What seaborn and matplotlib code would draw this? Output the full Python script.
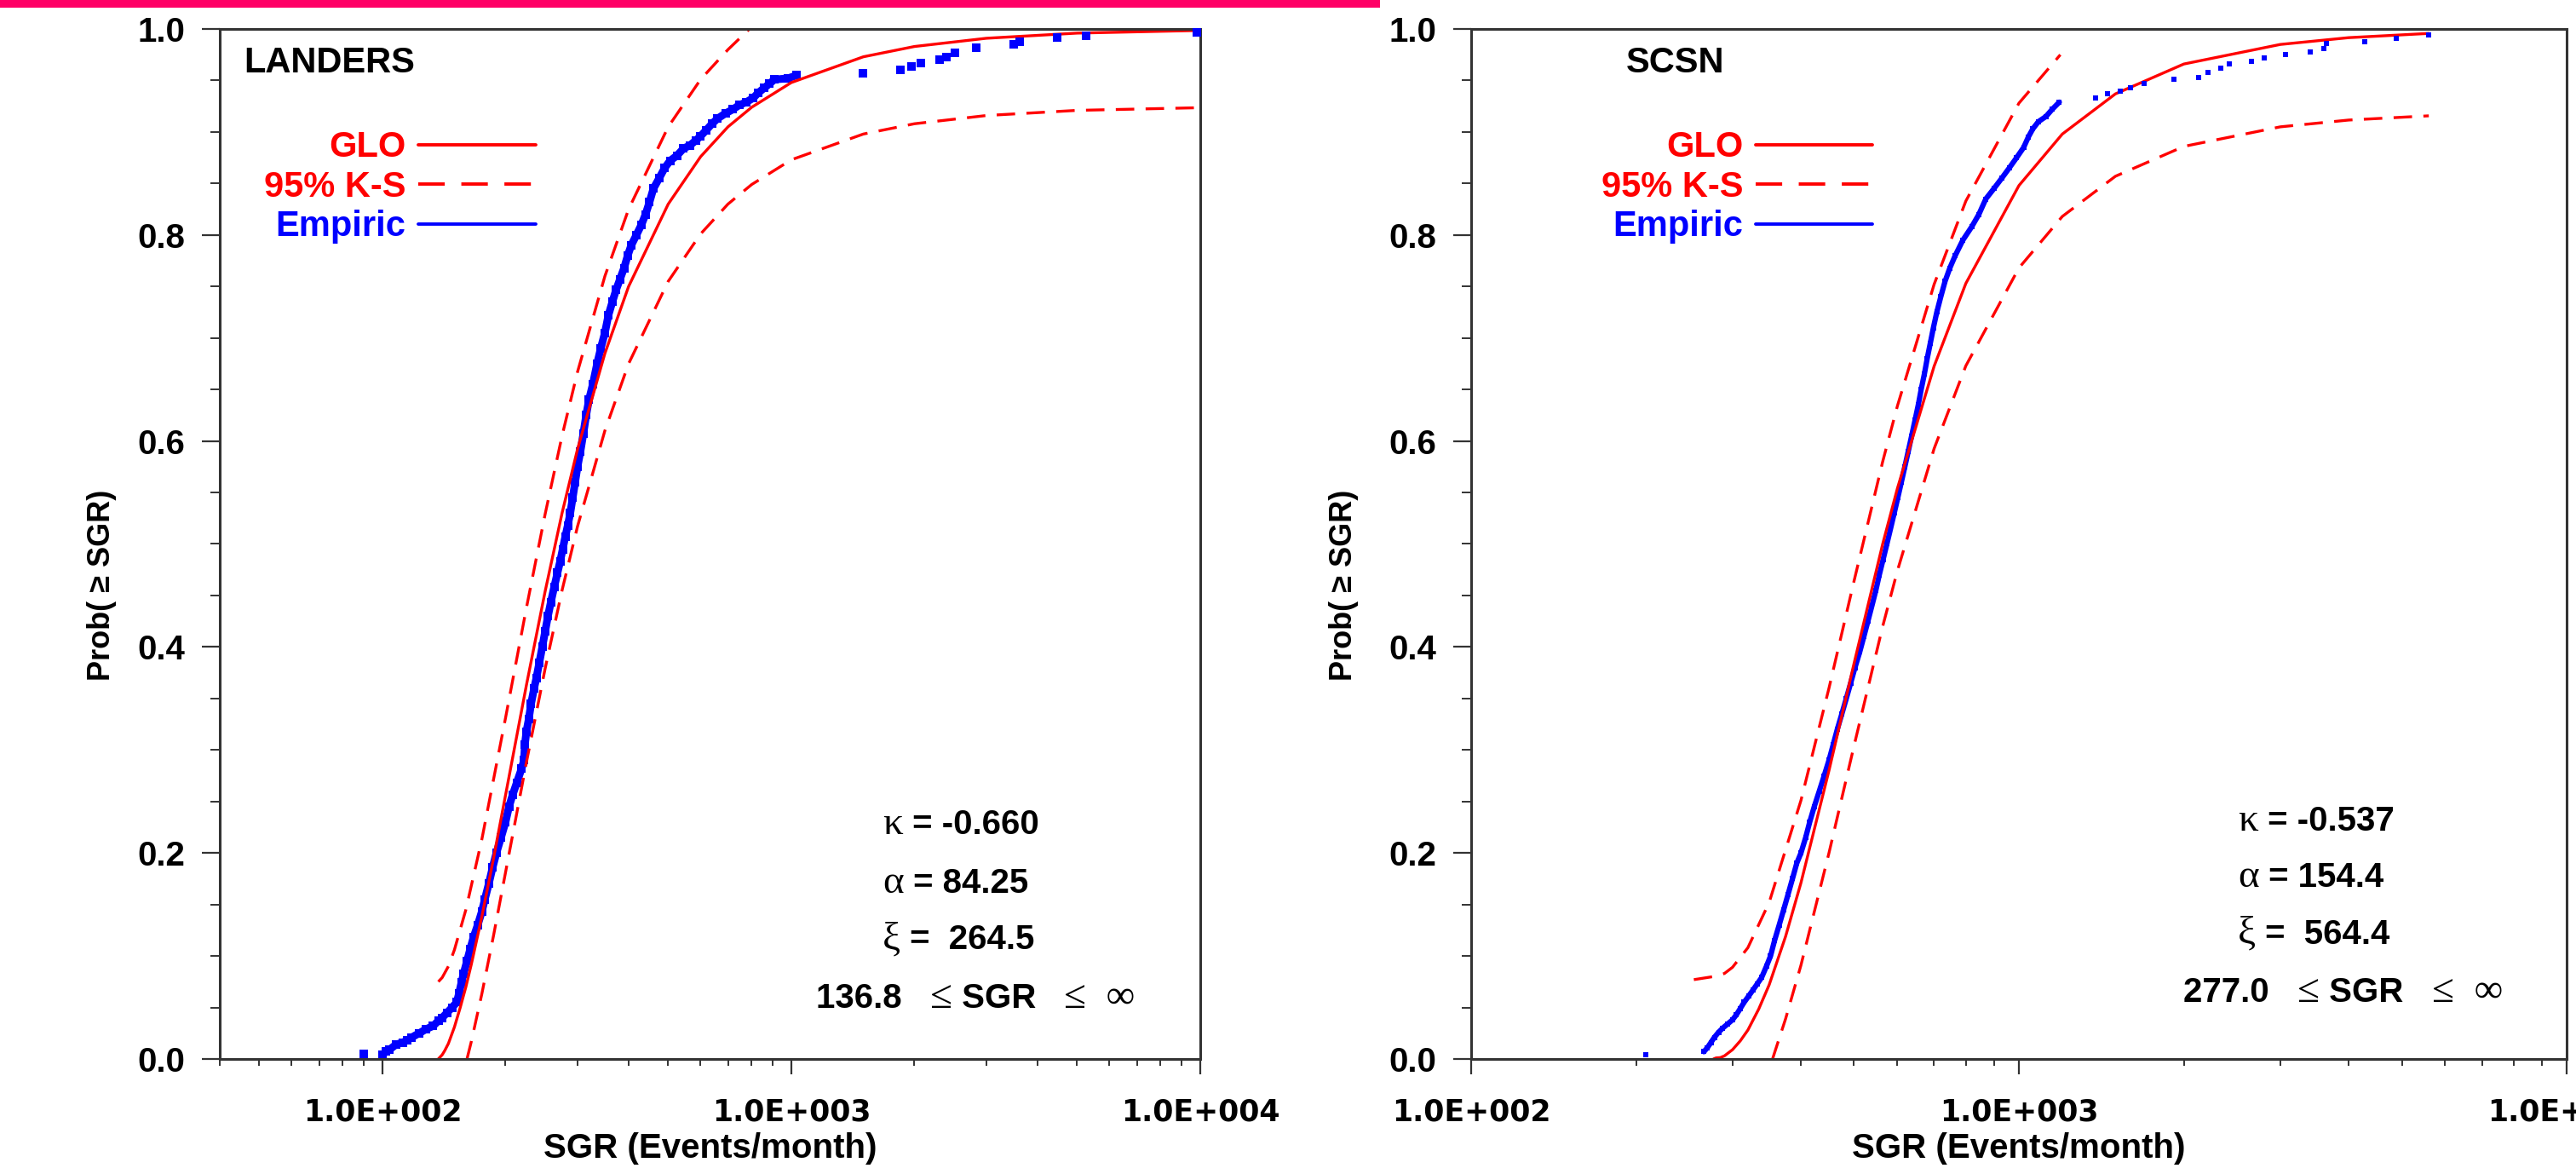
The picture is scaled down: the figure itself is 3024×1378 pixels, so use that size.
import numpy as np
import pandas as pd
import seaborn as sns
import matplotlib.pyplot as plt
from matplotlib.lines import Line2D
from matplotlib.patches import Rectangle
from matplotlib.offsetbox import TextArea, HPacker, AnchoredOffsetbox
from matplotlib.ticker import LogLocator, MultipleLocator, NullFormatter

sns.set_theme(style='ticks')
plt.rcParams['font.family'] = ['Liberation Sans', 'DejaVu Sans']

RED = '#ff0000'
BLUE = '#0000ff'
SPINE = '#333333'

# ---------------- LANDERS (left) ----------------
landers_glo_x = [137, 140, 142, 145, 150, 155, 160, 165, 175, 187, 200, 225, 250, 275, 300,
                 350, 400, 500, 600, 700, 800, 1000, 1500, 2000, 3000, 5000, 10000]
landers_glo_p = [0.0, 0.004, 0.008, 0.015, 0.031, 0.050, 0.070, 0.092, 0.138, 0.195, 0.256,
                 0.363, 0.454, 0.530, 0.592, 0.685, 0.750, 0.830, 0.876, 0.905, 0.924, 0.948,
                 0.973, 0.983, 0.991, 0.996, 0.9986]
landers_hi_x = [137, 140, 145, 150, 160, 175, 200, 225, 250, 275, 300, 350, 400, 500, 600, 700, 790]
landers_hi_p = [0.075, 0.079, 0.090, 0.106, 0.145, 0.213, 0.331, 0.438, 0.529, 0.605, 0.667,
                0.760, 0.825, 0.905, 0.951, 0.980, 1.0]
landers_lo_x = [161, 165, 175, 187, 200, 225, 250, 275, 300, 350, 400, 500, 600, 700, 800,
                1000, 1500, 2000, 3000, 5000, 10000]
landers_lo_p = [0.0, 0.017, 0.063, 0.120, 0.181, 0.288, 0.379, 0.455, 0.517, 0.610, 0.675,
                0.755, 0.801, 0.830, 0.849, 0.873, 0.898, 0.908, 0.916, 0.921, 0.9236]
# empirical points forming a continuous run
landers_emp_x = [100, 102, 104, 108, 112, 115, 118, 123, 128, 133, 137, 140, 144, 148, 152,
                 154, 156, 158, 161, 164, 167, 171, 175, 178, 182, 186, 190, 195, 200, 204,
                 208, 213, 219, 222, 223, 225, 228, 231, 235, 238, 242, 246, 250, 254, 258,
                 263, 268, 272, 276, 280, 284, 288, 292, 296, 300, 305, 310, 315, 320, 327,
                 335, 342, 350, 357, 365, 373, 381, 390, 398, 406, 418, 430, 440, 450, 460,
                 475, 490, 505, 525, 545, 565, 585, 600, 620, 640, 660, 690, 720, 745,
                 776, 807, 830, 860, 885, 910, 980, 1030]
landers_emp_p = [0.004, 0.007, 0.009, 0.014, 0.016, 0.018, 0.021, 0.025, 0.029, 0.032, 0.037,
                 0.040, 0.045, 0.050, 0.055, 0.064, 0.074, 0.083, 0.095, 0.107, 0.118, 0.130,
                 0.143, 0.155, 0.170, 0.186, 0.200, 0.215, 0.230, 0.245, 0.256, 0.268, 0.282,
                 0.290, 0.305, 0.318, 0.330, 0.345, 0.360, 0.370, 0.385, 0.400, 0.415, 0.430,
                 0.443, 0.458, 0.472, 0.483, 0.495, 0.507, 0.518, 0.530, 0.545, 0.560, 0.575,
                 0.590, 0.607, 0.625, 0.640, 0.655, 0.675, 0.690, 0.705, 0.722, 0.735, 0.747,
                 0.757, 0.768, 0.780, 0.790, 0.800, 0.810, 0.820, 0.832, 0.845, 0.855, 0.865,
                 0.872, 0.877, 0.884, 0.887, 0.892, 0.896, 0.902, 0.908, 0.913, 0.918, 0.922,
                 0.926, 0.929, 0.933, 0.938, 0.943, 0.947, 0.951, 0.952, 0.955]
# isolated empirical points
landers_loose_x = [90, 1500, 1853, 1963, 2070, 2300, 2400, 2510, 2830, 3500, 3620, 4470, 5260, 9800]
landers_loose_p = [0.005, 0.957, 0.960, 0.964, 0.967, 0.970, 0.973, 0.977, 0.982, 0.985, 0.988,
                   0.992, 0.993, 0.997]

# ---------------- SCSN (right) ----------------
scsn_glo_x = [277, 280, 285, 290, 300, 310, 320, 335, 350, 375, 400, 450, 500, 564, 600, 700,
              800, 1000, 1200, 1500, 2000, 3000, 4000, 5600]
scsn_glo_p = [0.0, 0.001, 0.0013, 0.003, 0.009, 0.0176, 0.028, 0.0485, 0.072, 0.119, 0.171,
              0.280, 0.384, 0.500, 0.554, 0.6725, 0.753, 0.848, 0.898, 0.937, 0.966, 0.985,
              0.9916, 0.9957]
scsn_hi_x = [255, 277, 290, 300, 320, 350, 400, 450, 500, 564, 600, 700, 800, 1000, 1190]
scsn_hi_p = [0.077, 0.080, 0.083, 0.089, 0.108, 0.152, 0.251, 0.360, 0.464, 0.580, 0.634,
             0.752, 0.833, 0.928, 0.975]
scsn_lo_x = [355, 360, 375, 400, 450, 500, 564, 600, 700, 800, 1000, 1200, 1500, 2000, 3000,
             4000, 5600]
scsn_lo_p = [0.0, 0.010, 0.039, 0.091, 0.200, 0.304, 0.420, 0.474, 0.5925, 0.673, 0.768,
             0.818, 0.857, 0.886, 0.905, 0.9116, 0.9157]
scsn_emp_x = [266, 270, 274, 278, 283, 288, 294, 300, 305, 310, 315, 321, 327, 333, 339, 346,
              352, 358, 365, 372, 379, 386, 393, 400, 408, 415, 423, 432, 441, 450, 458, 466,
              475, 484, 493, 502, 512, 521, 530, 539, 548, 556, 565, 574, 583, 592, 601, 610,
              619, 628, 637, 646, 655, 663, 672, 680, 689, 698, 708, 720, 733, 748, 765, 790,
              820, 845, 870, 900, 930, 960, 990, 1020, 1040, 1060, 1085, 1120, 1150, 1185]
scsn_emp_p = [0.007, 0.011, 0.016, 0.021, 0.026, 0.030, 0.034, 0.038, 0.043, 0.049, 0.055,
              0.061, 0.067, 0.073, 0.079, 0.090, 0.100, 0.115, 0.130, 0.145, 0.160, 0.175,
              0.190, 0.200, 0.215, 0.230, 0.245, 0.260, 0.275, 0.290, 0.305, 0.320, 0.335,
              0.350, 0.365, 0.380, 0.395, 0.410, 0.425, 0.440, 0.455, 0.470, 0.485, 0.500,
              0.515, 0.530, 0.545, 0.560, 0.575, 0.590, 0.605, 0.620, 0.635, 0.650, 0.665,
              0.680, 0.695, 0.710, 0.725, 0.740, 0.755, 0.768, 0.780, 0.795, 0.808, 0.820,
              0.835, 0.845, 0.855, 0.865, 0.875, 0.885, 0.895, 0.903, 0.910, 0.915, 0.922, 0.929]
scsn_loose_x = [208, 1380, 1450, 1530, 1600, 1690, 1920, 2130, 2210, 2340, 2420, 2660, 2800,
                3070, 3400, 3600, 3640, 4280, 4880, 5600]
scsn_loose_p = [0.004, 0.933, 0.937, 0.940, 0.943, 0.947, 0.951, 0.953, 0.958, 0.962, 0.966,
                0.969, 0.972, 0.975, 0.978, 0.981, 0.986, 0.988, 0.991, 0.994]

tick_labels = ['1.0E+002', '1.0E+003', '1.0E+004']
tick_values = [100, 1000, 10000]

panels = [
    dict(name='LANDERS', glo=(landers_glo_x, landers_glo_p), hi=(landers_hi_x, landers_hi_p),
         lo=(landers_lo_x, landers_lo_p), emp=(landers_emp_x, landers_emp_p),
         loose=(landers_loose_x, landers_loose_p), xlim=(40, 10000), rect=[0.0853, 0.098, 0.3806, 0.8773],
         band_lw=6.5, ms=6.5, title_x=0.025, leg_x=0.322, ylab_x=-0.105,
         params=['-0.660', '84.25', '264.5', '136.8'], px=0.676, lastx=0.608,
         py=[0.210, 0.153, 0.098, 0.041]),
    dict(name='SCSN', glo=(scsn_glo_x, scsn_glo_p), hi=(scsn_hi_x, scsn_hi_p),
         lo=(scsn_lo_x, scsn_lo_p), emp=(scsn_emp_x, scsn_emp_p),
         loose=(scsn_loose_x, scsn_loose_p), xlim=(100, 10000), rect=[0.5711, 0.098, 0.4253, 0.8773],
         band_lw=4.5, ms=5.0, title_x=0.141, leg_x=0.3665, ylab_x=-0.103,
         params=['-0.537', '154.4', '564.4', '277.0'], px=0.700, lastx=0.650,
         py=[0.2135, 0.159, 0.1035, 0.047]),
]

BOLD = dict(family='Liberation Sans', weight='bold', size=29, color='black')
GREEK = dict(family='Liberation Serif', weight='normal', size=34, color='black')


def rich_line(ax, x, y, pieces):
    boxes = [TextArea(s, textprops=p) for s, p in pieces]
    pack = HPacker(children=boxes, align='baseline', pad=0, sep=0)
    box = AnchoredOffsetbox(loc='lower left', child=pack, pad=0, borderpad=0, frameon=False,
                            bbox_to_anchor=(x, y), bbox_transform=ax.transAxes)
    ax.add_artist(box)


fig = plt.figure(figsize=(30.24, 13.78), dpi=100)
fig.patch.set_facecolor('white')
fig.add_artist(Rectangle((0, 1 - 9 / 1378), 1620 / 3024, 9 / 1378, transform=fig.transFigure,
                         color='#ff0066', lw=0))

for pn in panels:
    ax = fig.add_axes(pn['rect'])
    ax.set_facecolor('white')
    ax.set_xscale('log')

    emp = pd.DataFrame({'sgr': pn['emp'][0], 'prob': pn['emp'][1]})
    loose = pd.DataFrame({'sgr': pn['loose'][0], 'prob': pn['loose'][1]})
    glo = pd.DataFrame({'sgr': pn['glo'][0], 'prob': pn['glo'][1]})
    hi = pd.DataFrame({'sgr': pn['hi'][0], 'prob': pn['hi'][1]})
    lo = pd.DataFrame({'sgr': pn['lo'][0], 'prob': pn['lo'][1]})

    sns.lineplot(data=emp, x='sgr', y='prob', ax=ax, color=BLUE, lw=pn['band_lw'],
                 marker='s', markersize=pn['ms'], markeredgewidth=0, estimator=None, sort=False)
    sns.scatterplot(data=loose, x='sgr', y='prob', ax=ax, color=BLUE, marker='s',
                    s=pn['ms'] ** 2, linewidth=0, clip_on=False, zorder=3)
    sns.lineplot(data=glo, x='sgr', y='prob', ax=ax, color=RED, lw=2.4, estimator=None, sort=False)
    for df in (hi, lo):
        sns.lineplot(data=df, x='sgr', y='prob', ax=ax, color=RED, lw=2.4,
                     linestyle=(0, (6.5, 4)), estimator=None, sort=False)

    ax.set_xlim(*pn['xlim'])
    ax.set_ylim(0, 1.0)
    ax.set_xticks(tick_values, labels=tick_labels)
    ax.xaxis.set_minor_locator(LogLocator(base=10, subs=np.arange(2, 10)))
    ax.xaxis.set_minor_formatter(NullFormatter())
    ax.set_yticks(np.arange(0, 1.01, 0.2), labels=[f'{v:.1f}' for v in np.arange(0, 1.01, 0.2)])
    ax.yaxis.set_minor_locator(MultipleLocator(0.05))

    ax.tick_params(axis='y', which='major', direction='out', length=15, width=1.6, pad=14,
                   labelsize=29, colors=SPINE, labelcolor='black')
    ax.tick_params(axis='y', which='minor', direction='out', length=8, width=1.4, colors=SPINE)
    ax.tick_params(axis='x', which='major', direction='out', length=13, width=1.6, pad=20,
                   colors=SPINE, labelcolor='black')
    ax.tick_params(axis='x', which='minor', direction='out', length=6, width=1.4, colors=SPINE)
    for lab in ax.get_yticklabels():
        lab.set_fontweight('bold')
        lab.set_fontfamily('Liberation Sans')
    for lab in ax.get_xticklabels():
        lab.set_fontweight('bold')
        lab.set_fontfamily('DejaVu Sans')
        lab.set_fontsize(25)

    for sp in ax.spines.values():
        sp.set_visible(True)
        sp.set_color(SPINE)
        sp.set_linewidth(2.2)

    ax.set_xlabel('SGR (Events/month)', fontsize=29, fontweight='bold', color='black')
    ax.xaxis.set_label_coords(0.5, -0.071)
    ax.set_ylabel('Prob( ≥ SGR)', fontsize=26, fontweight='bold', color='black')
    ax.yaxis.set_label_coords(pn['ylab_x'], 0.46)

    ax.text(pn['title_x'], 0.958, pn['name'], transform=ax.transAxes, fontsize=30,
            fontweight='bold', va='baseline', ha='left', color='black')

    handles = [Line2D([], [], color=RED, lw=2.8),
               Line2D([], [], color=RED, lw=2.8, dashes=(8, 5)),
               Line2D([], [], color=BLUE, lw=2.8)]
    ax.legend(handles, ['GLO', '95% K-S', 'Empiric'], loc='upper right',
              bbox_to_anchor=(pn['leg_x'], 0.9015), markerfirst=False, frameon=False,
              prop=dict(family='Liberation Sans', weight='bold', size=30),
              labelcolor=[RED, RED, BLUE], handlelength=3.3, handletextpad=0.35,
              labelspacing=0.16, borderpad=0, borderaxespad=0)

    k, a, xi, low = pn['params']
    rich_line(ax, pn['px'], pn['py'][0], [('κ', GREEK), (f' = {k}', BOLD)])
    rich_line(ax, pn['px'], pn['py'][1], [('α', GREEK), (f' = {a}', BOLD)])
    rich_line(ax, pn['px'], pn['py'][2], [('ξ', GREEK), (f' =  {xi}', BOLD)])
    rich_line(ax, pn['lastx'], pn['py'][3], [(f'{low}   ', BOLD), ('≤', GREEK),
                                             (' SGR   ', BOLD), ('≤  ∞', GREEK)])

fig.savefig('out.png', dpi=100, facecolor='white')
